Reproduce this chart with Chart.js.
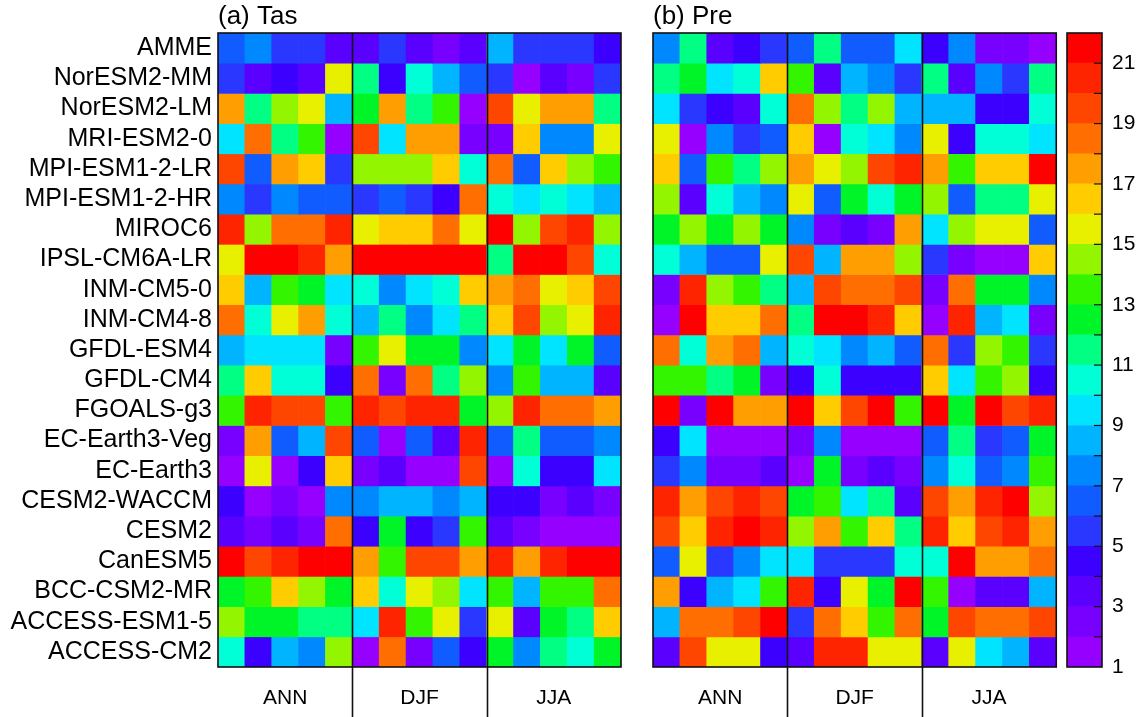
<!DOCTYPE html>
<html>
<head>
<meta charset="utf-8">
<script src="https://cdn.jsdelivr.net/npm/chart.js@4.4.1/dist/chart.umd.min.js"></script>
<style>
  html, body { margin: 0; padding: 0; background: #ffffff; }
  #wrap { position: relative; width: 1137px; height: 717px; overflow: hidden; background: #ffffff; }
  canvas { position: absolute; top: 0; }
</style>
</head>
<body>
<div id="wrap">
  <canvas id="tas" width="632" height="717" style="left:0;width:632px;height:717px"></canvas>
  <canvas id="pre" width="430" height="717" style="left:632px;width:430px;height:717px"></canvas>
  <canvas id="bar" width="75" height="717" style="left:1062px;width:75px;height:717px"></canvas>
</div>
<script>
// Models, top row first
const models = ['AMME','NorESM2-MM','NorESM2-LM','MRI-ESM2-0','MPI-ESM1-2-LR','MPI-ESM1-2-HR','MIROC6',
  'IPSL-CM6A-LR','INM-CM5-0','INM-CM4-8','GFDL-ESM4','GFDL-CM4','FGOALS-g3','EC-Earth3-Veg','EC-Earth3',
  'CESM2-WACCM','CESM2','CanESM5','BCC-CSM2-MR','ACCESS-ESM1-5','ACCESS-CM2'];

const seasons = ['ANN','DJF','JJA'];
const columnsPerSeason = 5;

// Rank of each model (1-21) for temperature, 5 columns per season
const tasRanks = [
  [6,7,5,5,3, 3,5,3,2,3, 8,5,5,5,4],
  [5,3,4,3,15, 11,4,10,8,6, 5,1,3,2,5],
  [17,11,14,15,8, 12,17,11,13,1, 19,15,17,17,11],
  [9,18,11,13,1, 19,9,17,17,2, 2,16,7,7,15],
  [19,6,17,16,5, 14,14,14,16,10, 18,6,16,14,13],
  [7,5,7,6,6, 5,6,5,4,18, 10,9,10,9,8],
  [20,14,18,18,20, 15,16,16,18,15, 21,14,19,20,14],
  [15,21,21,20,17, 21,21,21,21,21, 11,21,21,19,10],
  [16,8,13,12,9, 10,7,9,10,16, 17,18,15,16,19],
  [18,10,15,17,10, 8,11,7,9,11, 16,19,14,15,20],
  [8,9,9,9,2, 13,15,12,12,7, 9,12,9,12,6],
  [11,16,10,10,4, 18,2,18,11,14, 7,13,8,8,3],
  [13,20,19,19,13, 20,19,20,20,12, 14,20,18,18,17],
  [2,17,6,8,19, 6,1,6,3,20, 6,11,6,6,7],
  [1,15,1,4,16, 2,3,1,1,19, 1,10,4,4,9],
  [4,1,2,1,7, 7,8,8,7,8, 4,4,2,3,2],
  [3,2,3,2,18, 4,12,4,5,13, 3,2,1,1,1],
  [21,19,20,21,21, 17,13,19,19,17, 20,17,20,21,21],
  [12,13,16,14,12, 16,10,15,14,9, 13,8,13,13,18],
  [14,12,12,11,11, 9,20,13,15,5, 15,3,12,11,16],
  [10,4,8,7,14, 1,18,2,6,4, 12,7,11,10,12]
];

// Rank of each model (1-21) for precipitation
const preRanks = [
  [7,11,3,4,5, 6,11,6,6,9, 4,7,2,2,1],
  [11,12,9,10,16, 13,3,8,7,5, 11,3,7,5,11],
  [9,5,4,3,10, 18,14,11,14,8, 8,8,4,4,10],
  [15,1,7,5,6, 16,1,10,9,7, 15,4,10,10,9],
  [16,6,13,11,14, 17,15,14,19,20, 17,13,16,16,21],
  [14,3,10,8,7, 15,6,12,10,12, 14,6,11,11,15],
  [12,14,12,14,12, 7,2,3,2,17, 9,14,15,15,6],
  [10,8,6,6,15, 19,8,17,17,14, 5,2,1,1,16],
  [2,20,14,13,11, 8,19,18,18,19, 2,18,12,12,7],
  [1,21,16,16,18, 11,21,21,20,16, 1,20,8,9,2],
  [18,10,17,18,8, 10,9,7,8,6, 18,5,14,13,5],
  [13,13,11,12,2, 4,10,4,4,4, 16,9,13,14,4],
  [21,2,21,17,17, 21,16,19,21,13, 21,12,21,19,20],
  [4,9,1,1,1, 2,7,1,1,1, 6,11,5,6,12],
  [5,7,2,2,3, 1,12,2,3,2, 7,10,6,7,13],
  [20,17,19,20,19, 12,13,9,11,3, 19,17,20,21,14],
  [19,16,20,21,20, 14,17,13,16,11, 20,16,19,20,17],
  [6,15,5,7,9, 9,5,5,5,10, 10,21,17,17,18],
  [17,4,8,9,13, 20,4,15,12,21, 13,1,3,3,8],
  [8,18,18,19,21, 5,18,16,13,18, 12,19,18,18,19],
  [3,19,15,15,4, 3,20,20,15,15, 3,15,9,8,3]
];

// Discrete colour for ranks 1..21
const rankColors = ['#9600FF','#7800FF','#5A00FF','#3C00FF','#2A38FF','#105CFF','#0088FF','#00B4FF',
  '#00E4FF','#00FFD6','#00FF82','#00F528','#34F500','#94F500','#E8F000','#FFCC00','#FF9E00',
  '#FF6E00','#FF4600','#FF2400','#FF0000'];
const colorbarTicks = [1,3,5,7,9,11,13,15,17,19,21];

const FONT = '"Liberation Sans", Arial, Helvetica, sans-serif';
const columnLabels = seasons.flatMap(s => Array.from({length: columnsPerSeason}, (_, k) => s + ' ' + (k + 1)));

// Frame around the plot area and season separators running below it
const framePlugin = {
  id: 'frame',
  afterDatasetsDraw(chart, args, opts) {
    const {ctx, chartArea: a} = chart;
    ctx.save();
    ctx.strokeStyle = '#111';
    ctx.lineWidth = 1.6;
    if (opts.separators) {
      const xs = chart.scales.x;
      for (let g = 1; g < seasons.length; g++) {
        const px = Math.round(xs.getPixelForValue(g * columnsPerSeason - 0.5)) + 0.5;
        ctx.beginPath();
        ctx.moveTo(px, a.top);
        ctx.lineTo(px, chart.height);
        ctx.stroke();
      }
    }
    if (opts.innerTicks) {
      const ys = chart.scales.y;
      ctx.lineWidth = 1.2;
      for (let v = 2; v <= rankColors.length; v++) {
        const py = ys.getPixelForValue(v);
        ctx.beginPath();
        ctx.moveTo(a.right - 8, py);
        ctx.lineTo(a.right, py);
        ctx.stroke();
      }
      ctx.lineWidth = 1.6;
    }
    ctx.strokeRect(a.left, a.top, a.right - a.left, a.bottom - a.top);
    ctx.restore();
  }
};

function heatmap(canvasId, ranks, title, withLabels, labelWidth, pad) {
  const n = models.length;
  return new Chart(document.getElementById(canvasId), {
    type: 'bar',
    data: {
      labels: columnLabels,
      datasets: models.map((m, i) => ({
        label: m,
        data: columnLabels.map(() => [n - 1 - i, n - i]),
        backgroundColor: ranks[i].map(v => rankColors[v - 1]),
        borderWidth: 0,
        grouped: false,
        barPercentage: 1,
        categoryPercentage: 1
      }))
    },
    options: {
      responsive: false,
      animation: false,
      devicePixelRatio: 1,
      layout: { padding: pad },
      plugins: {
        legend: { display: false },
        tooltip: { enabled: false },
        title: {
          display: true, text: title, align: 'start', fullSize: false, color: '#000',
          font: { family: FONT, size: 26, weight: 'normal', lineHeight: 1.2 },
          padding: { top: 0, bottom: 0.8 }
        },
        frame: { separators: true }
      },
      scales: {
        x: {
          type: 'category', offset: true,
          grid: { display: false, drawTicks: false }, border: { display: false },
          ticks: {
            autoSkip: false, maxRotation: 0, padding: 19, color: '#000',
            font: { family: FONT, size: 21 },
            callback: (v, i) => (i % columnsPerSeason === Math.floor(columnsPerSeason / 2)) ? seasons[Math.floor(i / columnsPerSeason)] : ''
          },
          afterFit: s => { s.height = 50; }
        },
        y: {
          type: 'linear', min: 0, max: n, display: withLabels,
          grid: { display: false, drawTicks: false }, border: { display: false },
          afterBuildTicks: s => { s.ticks = models.map((m, i) => ({ value: n - 0.5 - i })); },
          ticks: {
            autoSkip: false, padding: 6, color: '#000',
            font: { family: FONT, size: 25 },
            callback: v => models[Math.round(n - 0.5 - v)]
          },
          afterFit: s => { s.width = labelWidth; }
        }
      }
    },
    plugins: [framePlugin]
  });
}

heatmap('tas', tasRanks, '(a) Tas', true, 218, { top: 1, right: 11, left: 0, bottom: 0 });
heatmap('pre', preRanks, '(b) Pre', false, 0, { top: 1, right: 5, left: 21, bottom: 0 });

// Colour bar: one band per rank
new Chart(document.getElementById('bar'), {
  type: 'bar',
  data: {
    labels: [''],
    datasets: rankColors.map((c, k) => ({
      label: String(k + 1),
      data: [[k + 1, k + 2]],
      backgroundColor: c,
      borderWidth: 0,
      grouped: false,
      barPercentage: 1,
      categoryPercentage: 1
    }))
  },
  options: {
    responsive: false,
    animation: false,
    devicePixelRatio: 1,
    layout: { padding: { top: 33, left: 5, bottom: 50, right: 0 } },
    plugins: { legend: { display: false }, tooltip: { enabled: false }, frame: { innerTicks: true } },
    scales: {
      x: { display: false },
      y: {
        position: 'right', min: 1, max: rankColors.length + 1,
        grid: { display: false, drawTicks: false }, border: { display: false },
        afterBuildTicks: s => { s.ticks = colorbarTicks.map(v => ({ value: v })); },
        ticks: { autoSkip: false, padding: 10, color: '#000', font: { family: FONT, size: 21 } },
        afterFit: s => { s.width = 35; }
      }
    }
  },
  plugins: [framePlugin]
});
</script>
</body>
</html>
